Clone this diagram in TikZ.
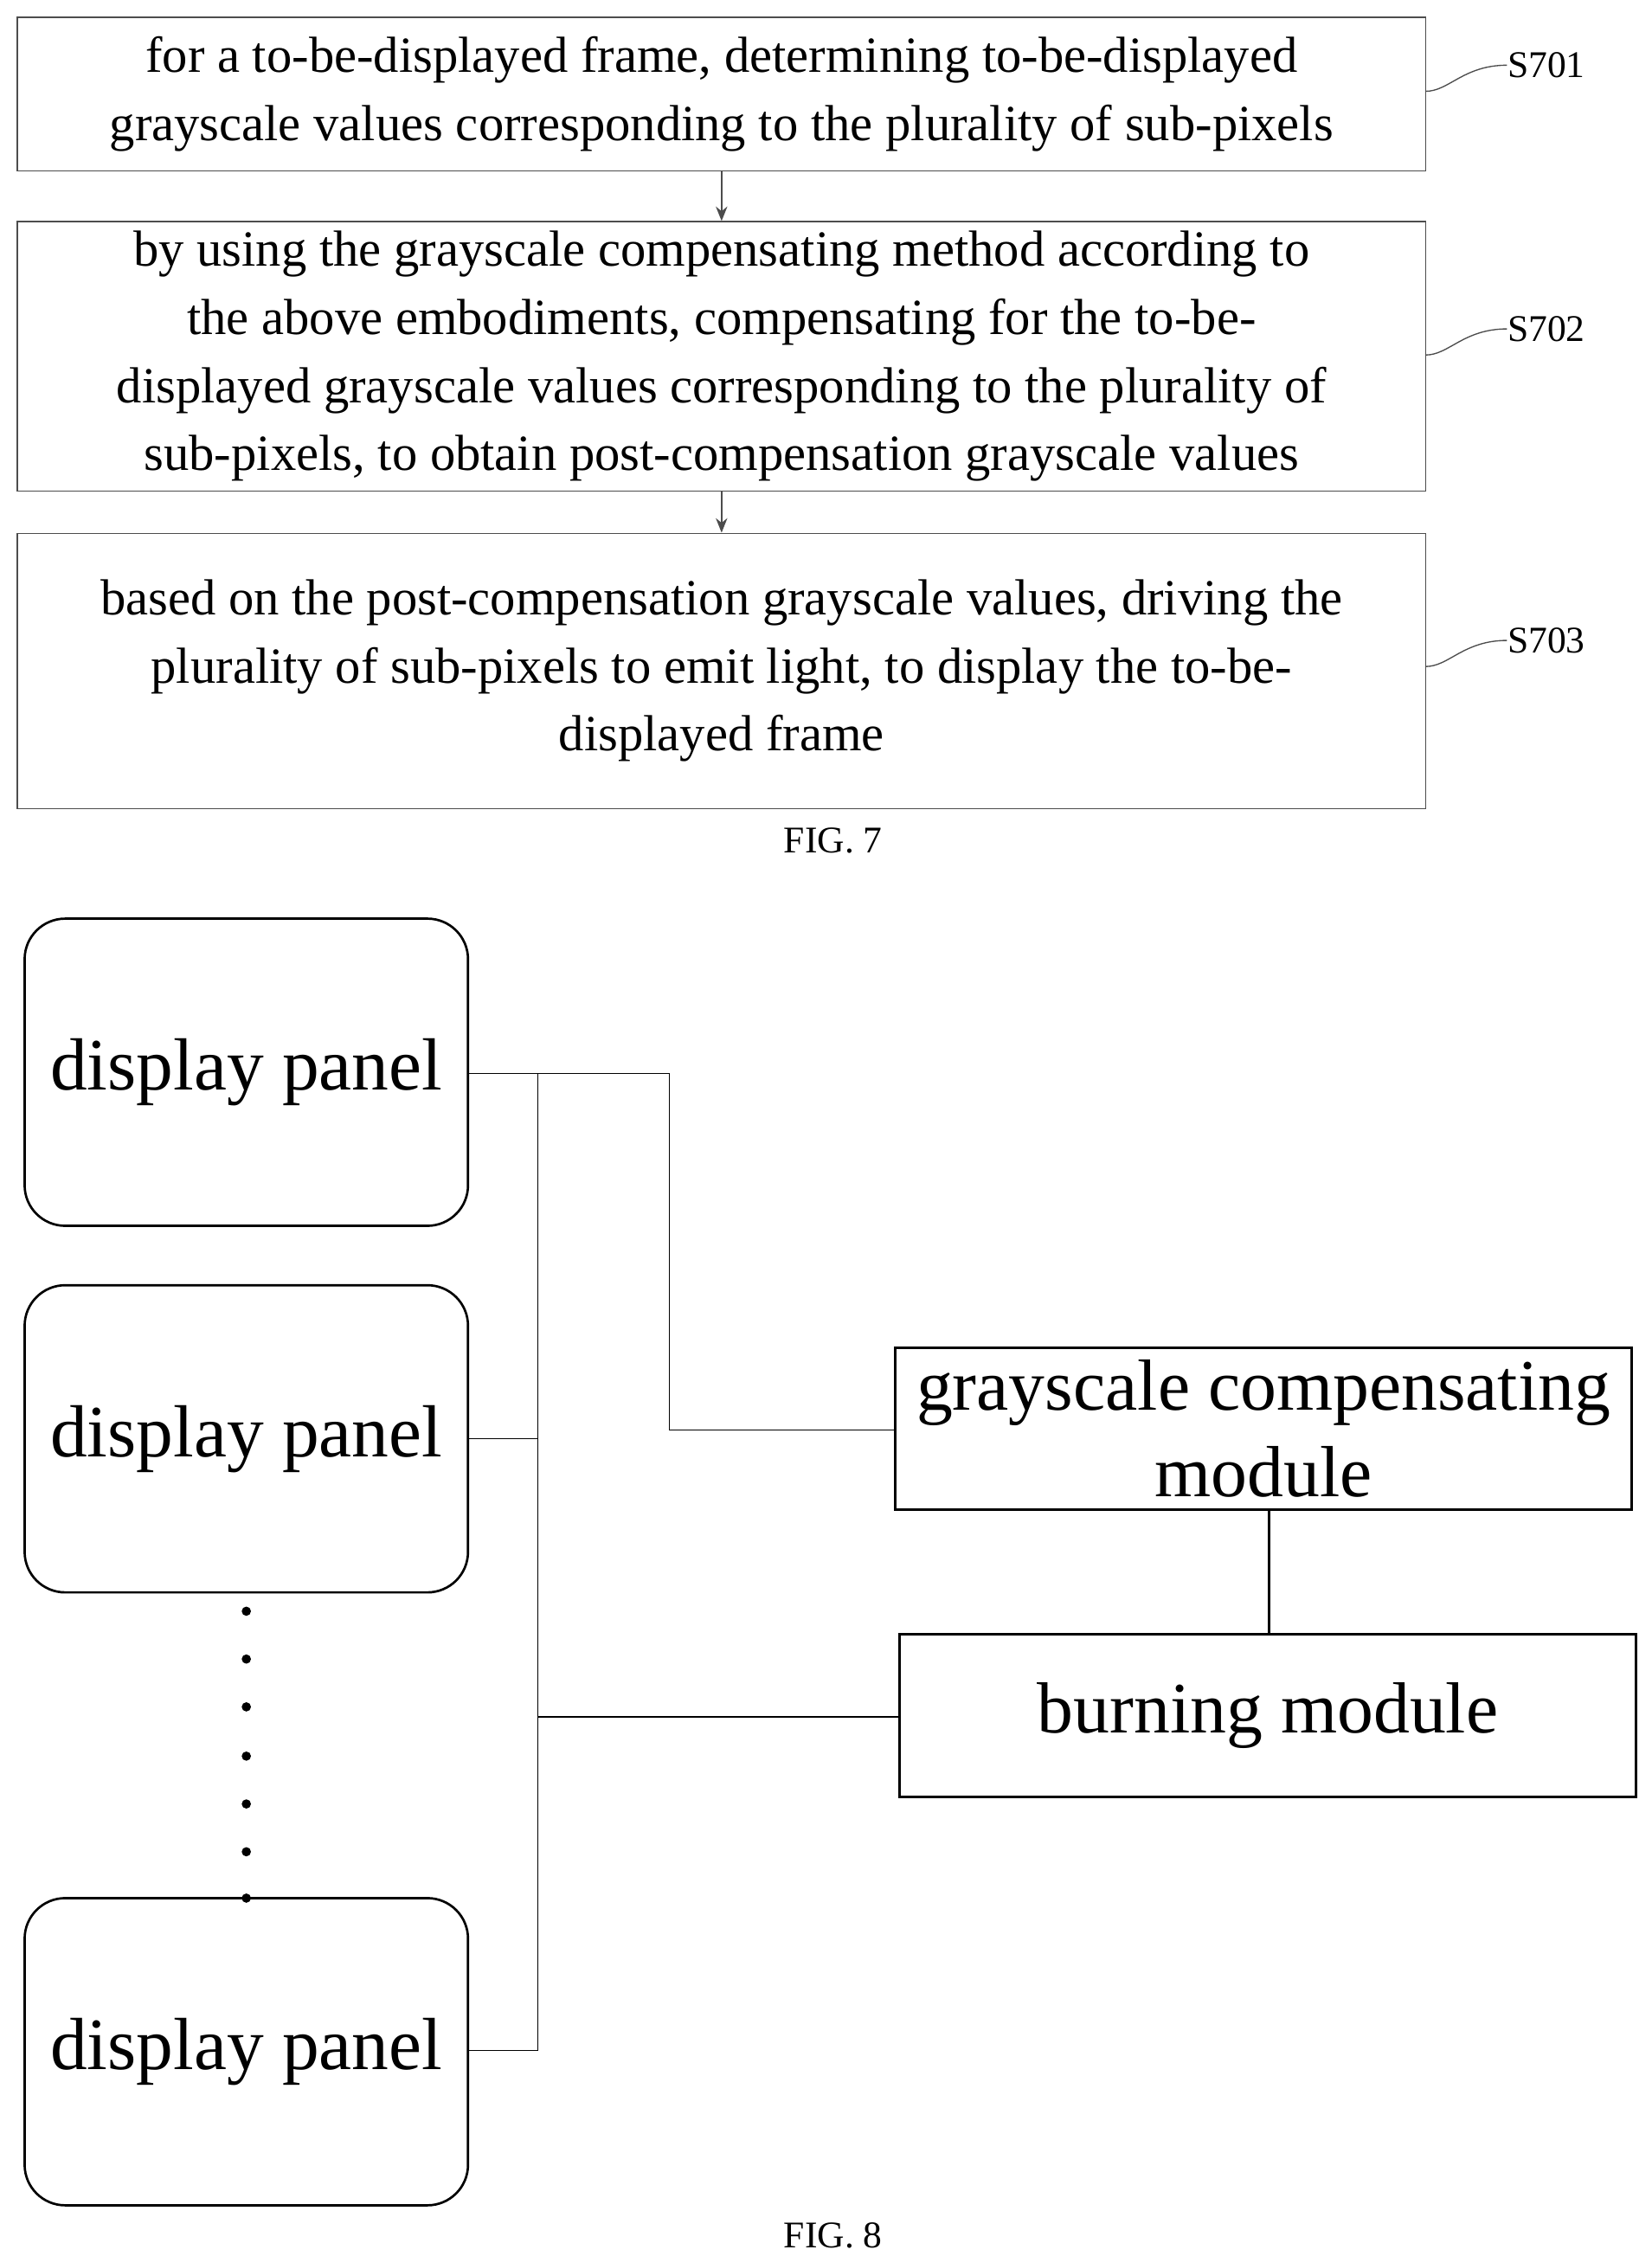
\documentclass[tikz,border=0pt]{standalone}
\usepackage{fontspec}
\setmainfont{Liberation Serif}
\usetikzlibrary{arrows.meta}
\tikzset{
  StepNode/.style = {rectangle, draw=black!70, align=center, minimum width=486pt,
    font=\fontsize{17.5}{23.5}\selectfont},
  PanelNode/.style = {rectangle, rounded corners=14pt, draw=black, thick, minimum width=153pt,
    minimum height=106pt, font=\fontsize{25.5}{30}\selectfont},
  ModuleNode/.style = {rectangle, draw=black, thick, minimum width=254pt, minimum height=56pt,
    align=center, font=\fontsize{25}{30}\selectfont},
  LabelNode/.style = {font=\fontsize{13}{15}\selectfont, anchor=west, inner sep=0pt},
}
\begin{document}
\begin{tikzpicture}[x=0.5pt,y=-0.5pt,>={Stealth[length=5pt,width=4pt]}]
    \useasboundingbox (0,0) rectangle (1140,1557);
    % FIG. 7
    \node [StepNode, minimum height=53pt] (s1) at (498,65) {for a to-be-displayed frame, determining to-be-displayed\\grayscale values corresponding to the plurality of sub-pixels};
    \node [StepNode, minimum height=92pt] (s2) at (498,246) {by using the grayscale compensating method according to\\the above embodiments, compensating for the to-be-\\displayed grayscale values corresponding to the plurality of\\sub-pixels, to obtain post-compensation grayscale values};
    \node [StepNode, minimum height=95pt] (s3) at (498,463) {based on the post-compensation grayscale values, driving the\\plurality of sub-pixels to emit light, to display the to-be-\\displayed frame};
    \draw [->, black!70] (s1) -- (s2);
    \draw [->, black!70] (s2) -- (s3);
    \foreach \n/\y/\t in {1/45/S701, 2/227/S702, 3/442/S703}{
        \node [LabelNode] (l\n) at (1040,\y) {\t};
        \draw [black!70] (984,\y+18) .. controls (1000,\y+18) and (1010,\y) .. (l\n.west);
    }
    \node [font=\fontsize{13}{15}\selectfont] (f7) at (575,580) {FIG. 7};
    % FIG. 8
    \node [PanelNode] (p1) at (170,740) {display panel};
    \node [PanelNode] (p2) at (170,993) {display panel};
    \node [PanelNode] (p3) at (170,1416) {display panel};
    \node [ModuleNode] (gc) at (872,986) {grayscale compensating\\module};
    \node [ModuleNode] (bm) at (875,1184) {burning module};
    \foreach \y in {1112,1145,1178,1212,1245,1278,1310}
        \fill (170,\y) circle (1.6pt);
    \coordinate (b1) at (371,741);
    \coordinate (b3) at (371,1415);
    \draw (p1.east |- b1) -- (b1) -- (b3) -- (p3.east |- b3);
    \draw (p1.east |- b1) -| (462,987) -- (gc.west |- 0,987);
    \draw (p2.east |- 0,993) -- (371,993);
    \draw (371,1185) -- (bm.west |- 0,1185);
    \draw [thick] (gc.south -| 876,0) -- (bm.north -| 876,0);
    \node [font=\fontsize{13}{15}\selectfont] (f8) at (575,1543) {FIG. 8};
\end{tikzpicture}
\end{document}
